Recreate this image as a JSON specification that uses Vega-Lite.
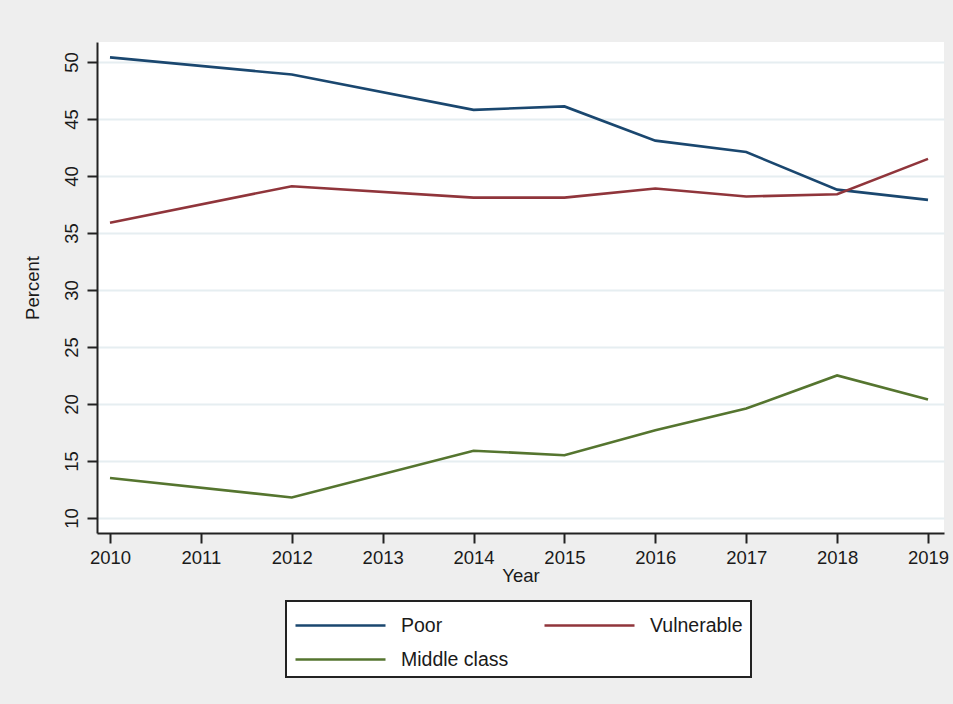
{
  "$schema": "https://vega.github.io/schema/vega-lite/v6.json",
  "width": 847,
  "height": 491,
  "autosize": "none",
  "padding": {"left": 97, "top": 42, "right": 9, "bottom": 171},
  "background": "#eeeeee",
  "config": {
    "font": "Liberation Sans",
    "view": {"fill": "white", "stroke": null}
  },
  "data": {
    "values": [
      {"Year": 2010, "Group": "Poor", "Percent": 50.4},
      {"Year": 2012, "Group": "Poor", "Percent": 48.9},
      {"Year": 2014, "Group": "Poor", "Percent": 45.8},
      {"Year": 2015, "Group": "Poor", "Percent": 46.1},
      {"Year": 2016, "Group": "Poor", "Percent": 43.1},
      {"Year": 2017, "Group": "Poor", "Percent": 42.1},
      {"Year": 2018, "Group": "Poor", "Percent": 38.8},
      {"Year": 2019, "Group": "Poor", "Percent": 37.9},
      {"Year": 2010, "Group": "Vulnerable", "Percent": 35.9},
      {"Year": 2012, "Group": "Vulnerable", "Percent": 39.1},
      {"Year": 2014, "Group": "Vulnerable", "Percent": 38.1},
      {"Year": 2015, "Group": "Vulnerable", "Percent": 38.1},
      {"Year": 2016, "Group": "Vulnerable", "Percent": 38.9},
      {"Year": 2017, "Group": "Vulnerable", "Percent": 38.2},
      {"Year": 2018, "Group": "Vulnerable", "Percent": 38.4},
      {"Year": 2019, "Group": "Vulnerable", "Percent": 41.5},
      {"Year": 2010, "Group": "Middle class", "Percent": 13.5},
      {"Year": 2012, "Group": "Middle class", "Percent": 11.8},
      {"Year": 2014, "Group": "Middle class", "Percent": 15.9},
      {"Year": 2015, "Group": "Middle class", "Percent": 15.5},
      {"Year": 2016, "Group": "Middle class", "Percent": 17.7},
      {"Year": 2017, "Group": "Middle class", "Percent": 19.6},
      {"Year": 2018, "Group": "Middle class", "Percent": 22.5},
      {"Year": 2019, "Group": "Middle class", "Percent": 20.4}
    ]
  },
  "mark": {"type": "line", "strokeWidth": 2.6, "clip": true},
  "encoding": {
    "x": {
      "field": "Year",
      "type": "quantitative",
      "scale": {"domain": [2009.857, 2019.176], "nice": false, "zero": false},
      "axis": {
        "values": [2010, 2011, 2012, 2013, 2014, 2015, 2016, 2017, 2018, 2019],
        "format": "d",
        "grid": false,
        "domainColor": "#222222",
        "domainWidth": 2,
        "tickColor": "#222222",
        "tickWidth": 2,
        "tickSize": 10,
        "labelFontSize": 18.5,
        "labelColor": "#1a1a1a",
        "labelPadding": 5,
        "labelFlush": false,
        "title": "Year",
        "titleFontSize": 18.5,
        "titleFontWeight": "normal",
        "titleColor": "#1a1a1a",
        "titlePadding": 0
      }
    },
    "y": {
      "field": "Percent",
      "type": "quantitative",
      "scale": {"domain": [8.68, 51.75], "nice": false, "zero": false},
      "axis": {
        "values": [10, 15, 20, 25, 30, 35, 40, 45, 50],
        "grid": true,
        "gridColor": "#e6eef1",
        "gridWidth": 2,
        "domainColor": "#222222",
        "domainWidth": 2,
        "tickColor": "#222222",
        "tickWidth": 2,
        "tickSize": 10,
        "labelAngle": 270,
        "labelAlign": "center",
        "labelBaseline": "bottom",
        "labelFontSize": 18.5,
        "labelColor": "#1a1a1a",
        "labelPadding": 6,
        "labelFlush": false,
        "title": "Percent",
        "titleFontSize": 18.5,
        "titleFontWeight": "normal",
        "titleColor": "#1a1a1a",
        "titlePadding": 20
      }
    },
    "color": {
      "field": "Group",
      "type": "nominal",
      "scale": {
        "domain": ["Poor", "Vulnerable", "Middle class"],
        "range": ["#1a476f", "#90353b", "#55752f"]
      },
      "legend": {
        "title": null,
        "orient": "none",
        "legendX": 189,
        "legendY": 559,
        "direction": "horizontal",
        "columns": 2,
        "columnPadding": 30,
        "rowPadding": 8,
        "symbolType": "M-1,0H5",
        "symbolSize": 900,
        "symbolStrokeWidth": 2.6,
        "labelFontSize": 19.5,
        "labelColor": "#1a1a1a",
        "labelOffset": 74,
        "labelLimit": 300,
        "fillColor": "white",
        "strokeColor": "#222222",
        "padding": 8,
        "gridAlign": "all",
        "encode": {"legend": {"update": {"strokeWidth": {"value": 2}}}}
      }
    }
  }
}
